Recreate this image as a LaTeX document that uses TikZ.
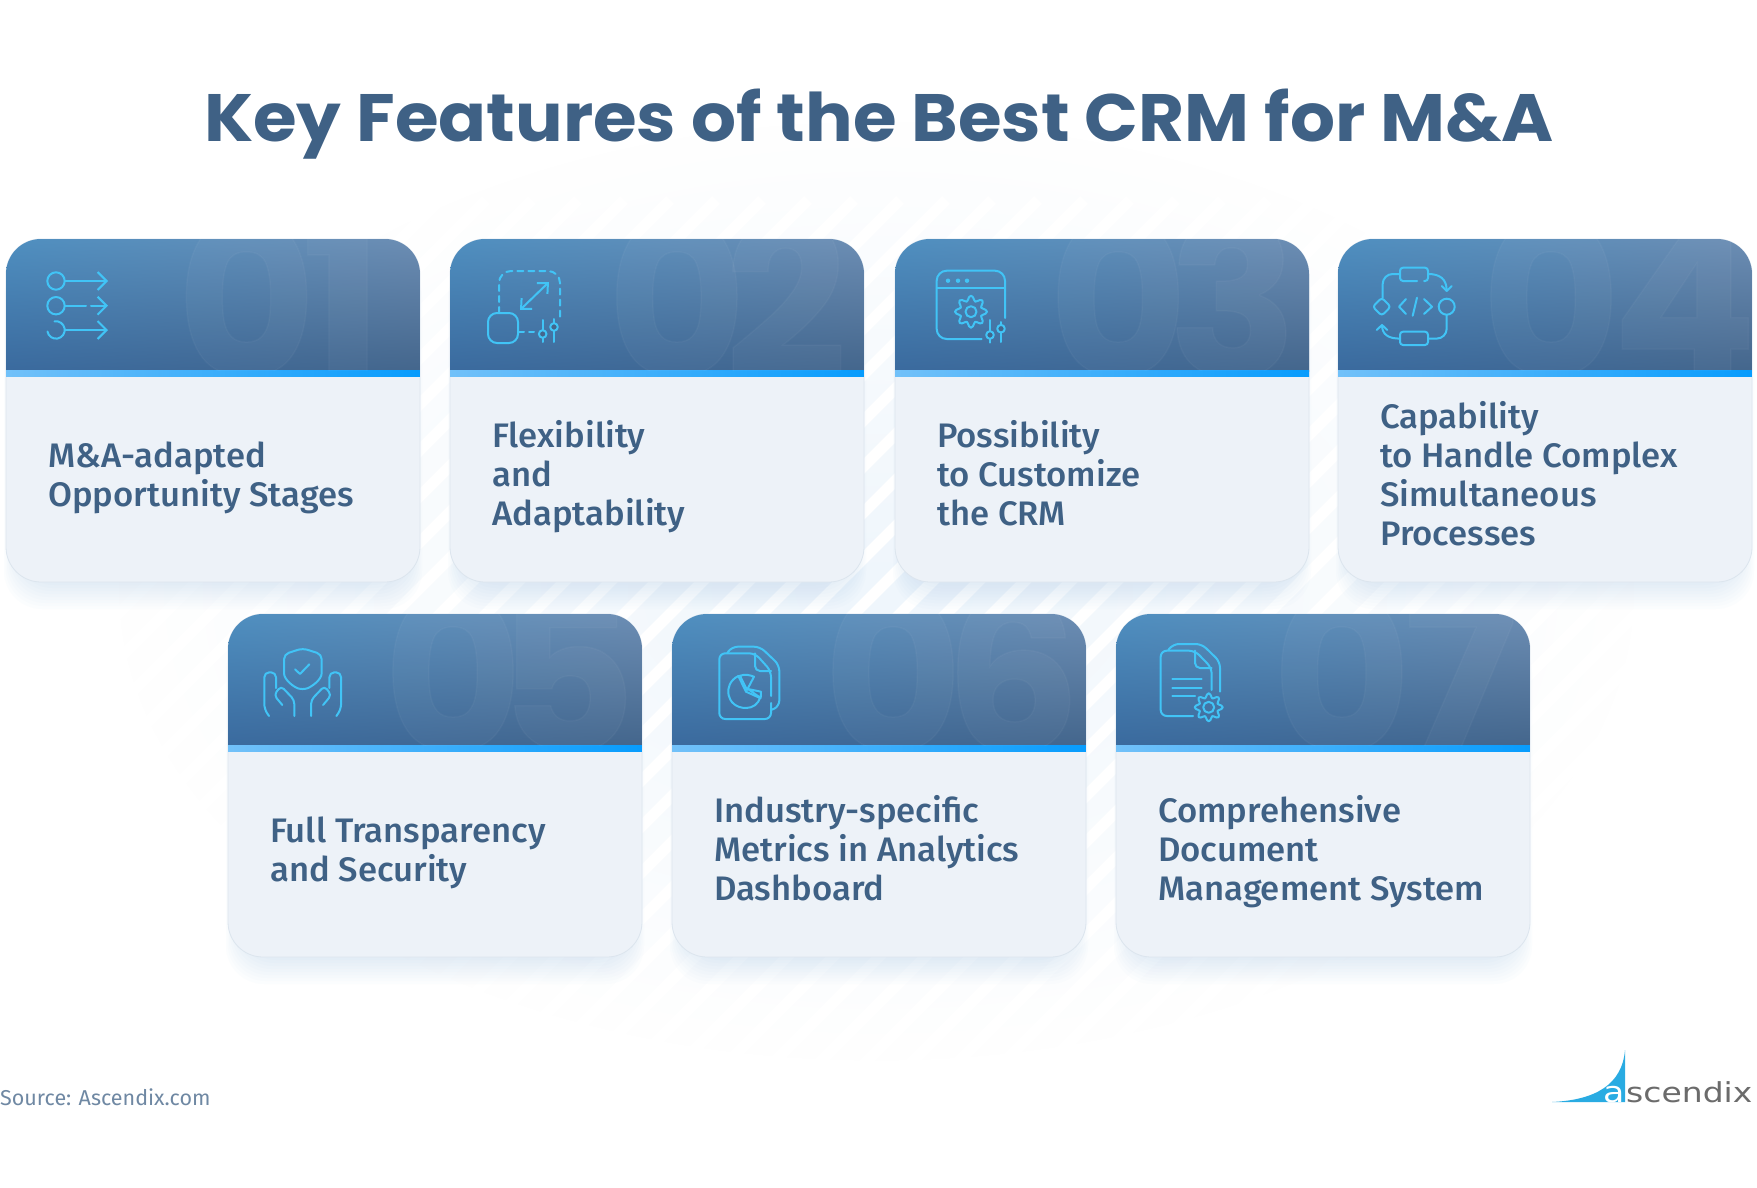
\documentclass[tikz,border=0pt]{standalone}
\usepackage{fontspec}
\usetikzlibrary{arrows.meta,fadings,shadings}
\setmainfont[FakeStretch=1.02]{Fira Sans Medium}
\newfontfamily\headfont[FakeStretch=1.055]{Poppins}
\newfontfamily\numfont[FakeBold=0.7]{Poppins}
\newfontfamily\srcfont{Fira Sans}
\newfontfamily\logofont[FakeStretch=1.2]{DejaVu Sans}
\definecolor{inkblue}{HTML}{3F6185}
\definecolor{iconblue}{HTML}{41C4F6}
\definecolor{bodyblue}{HTML}{EDF2F8}
\definecolor{edgeblue}{HTML}{DCE5EE}
\definecolor{glowblue}{HTML}{A9CCE6}
\definecolor{logoblue}{HTML}{29ABE2}
\definecolor{backblue}{HTML}{EFF6FC}
\definecolor{headtl}{HTML}{4F8FC0}
\definecolor{headtr}{HTML}{6C8DB3}
\definecolor{headbl}{HTML}{3A6A9E}
\definecolor{headbr}{HTML}{44668C}
\definecolor{barl}{HTML}{72C1F9}
\definecolor{barr}{HTML}{079CFD}
\tikzfading[name=middlefade,inner color=transparent!0,middle color=transparent!35,outer color=transparent!100]
\tikzset{
	titletext/.style={anchor=base,text=inkblue,font=\headfont\bfseries\fontsize{67}{70}\selectfont},
	cardtext/.style={anchor=west,align=left,inner sep=0pt,text=inkblue,font=\fontsize{34}{39}\selectfont},
	numtext/.style={anchor=base,inner sep=0pt,text=white,text opacity=0.03,font=\numfont\bfseries\fontsize{214}{214}\selectfont},
	iconline/.style={draw=iconblue,line width=2pt,line cap=round,line join=round},
	iconarrow/.style={iconline,-{Straight Barb[length=9pt,width=18pt,line width=2pt]}},
	cardbox/.style={fill=bodyblue,draw=edgeblue,line width=0.8pt,rounded corners=35pt},
}
\newcommand\gearicon[3]{
	\draw[iconline] plot[smooth cycle,samples=48,domain=0:352.5,variable=\t]
		({#1+#3*(.84+.16*cos(8*\t))*cos(\t)},{#2+#3*(.84+.16*cos(8*\t))*sin(\t)});
	\draw[iconline] (#1,#2) circle[radius=5.5pt];
}
\newcommand\sliders[6]{
	\draw[iconline] (#1,#2) -- (#1,#3);
	\draw[iconline] (#4,#5) -- (#4,#6);
}
\begin{document}
\begin{tikzpicture}[x=1pt,y=-1pt]
	\useasboundingbox (0,0) rectangle (1757,1188);
	\fill[white] (0,0) rectangle (1757,1188);
	% background stripes
	\fill[backblue,path fading=middlefade] (880,590) ellipse[x radius=760pt,y radius=470pt];
	\foreach \s in {-20,...,50}
		\draw[white,line width=11pt] (\s*46,1100) -- (\s*46+900,200);
	% title
	\node[titletext] (title) at (879,142) {Key Features of the Best CRM for M\&A};
	% cards
	\foreach \cardname/\cardx/\cardy/\numx/\numkern/\lastdigit/\cardtxt in {
		01/6/239/279.5/14.5/1/{M\&A-adapted\\Opportunity Stages},
		02/450/239/727/22/2/{Flexibility\\and\\Adaptability},
		03/895/239/1173/20/3/{Possibility\\to Customize\\the CRM},
		04/1338/239/1619/9/4/{Capability\\to Handle Complex\\Simultaneous\\Processes},
		05/228/614/509.6/26/5/{Full Transparency\\and Security},
		06/672/614/952/18.5/6/{Industry-specific\\Metrics in Analytics\\Dashboard},
		07/1116/614/1395/8/7/{Comprehensive\\Document\\Management System}} {
		\foreach \s in {0,...,8}
			\fill[glowblue,opacity=0.035,rounded corners=38pt] (\cardx+10-\s*1.5,\cardy+20) rectangle (\cardx+404+\s*1.5,\cardy+346+\s*3);
		\draw[cardbox] (\cardx,\cardy) rectangle ++(414,343);
		\begin{scope}[draw opacity=0.2]
			\clip[rounded corners=35pt] (\cardx,\cardy) rectangle ++(414,343);
			\shade[upper left=headtl,upper right=headtr,lower left=headbl,lower right=headbr] (\cardx,\cardy) rectangle ++(414,132);
			\shade[left color=barl,right color=barr] (\cardx,\cardy+131) rectangle ++(414,6.5);
			\clip (\cardx,\cardy) rectangle ++(414,131);
			\node[numtext] (num\cardname) at (\numx,\cardy+138) {0\kern-\numkern pt\lastdigit};
		\end{scope}
		\node[cardtext] (txt\cardname) at (\cardx+42,\cardy+240) {\strut\cardtxt\strut};
	}
	% icon 01
	\draw[iconarrow] (64.7,281) -- (108,281);
	\draw[iconline] (64.7,305.7) -- (86,305.7);
	\draw[iconarrow] (91,305.7) -- (108,305.7);
	\draw[iconarrow] (64.7,330) -- (108,330);
	\draw[iconline] (56,281) circle[radius=8.7pt];
	\draw[iconline] (56,305.7) circle[radius=8.7pt];
	\draw[iconline] (54.5,321.4) arc[start angle=100,end angle=-170,radius=8.7pt];
	% icon 02
	\draw[iconline,dash pattern=on 6pt off 5pt,rounded corners=12pt] (499,313) -- (499,271) -- (560,271) -- (560,318);
	\draw[iconline,rounded corners=9pt] (488,313) rectangle (518,343);
	\draw[iconline,dash pattern=on 6pt off 5pt] (518,331.7) -- (534,331.7);
	\draw[iconline,{Straight Barb[length=8pt,width=15pt,line width=2pt]}-{Straight Barb[length=8pt,width=15pt,line width=2pt]}] (520,310) -- (549,282);
	\sliders{542.7}{320}{342}{554}{319}{342}
	\draw[iconline,fill=headbr] (542.7,334) circle[radius=3.8pt];
	\draw[iconline,fill=headbr] (554,327) circle[radius=3.8pt];
	% icon 03
	\draw[iconline,rounded corners=10pt] (981.7,339) -- (936.7,339) -- (936.7,270.7) -- (1005,270.7) -- (1005,318);
	\draw[iconline] (936.7,288) -- (1005,288);
	\foreach \xpos in {948,958,967}
		\fill[iconblue] (\xpos,280.7) circle[radius=2.2pt];
	\gearicon{971}{311.7}{16}
	\sliders{990}{320}{342.7}{1001}{322}{342}
	\draw[iconline,fill=headbr] (990,335) circle[radius=3.8pt];
	\draw[iconline,fill=headbr] (1001,328.7) circle[radius=3.8pt];
	% icon 04
	\draw[iconline,rounded corners=3pt] (1424,281) -- (1428,281) -- (1428,267.7) -- (1400,267.7) -- (1400,281) -- (1417,281);
	\draw[iconline,rounded corners=3pt] (1400,331.7) rectangle (1428,345);
	\draw[iconline,rounded corners=3pt] (1381.7,297.7) -- (1390.7,306.7) -- (1381.7,315.7) -- (1372.7,306.7) -- cycle;
	\draw[iconline] (1446.7,306.7) circle[radius=8pt];
	\draw[iconline,rounded corners=10pt] (1400,274) -- (1382.7,274) -- (1382.7,298);
	\draw[iconline,rounded corners=10pt] (1446.7,315) -- (1446.7,338.6) -- (1428,338.6);
	\draw[iconline] (1428,274) .. controls (1440,274) and (1446.7,279) .. (1446.7,291);
	\draw[iconline] (1441.7,286) -- (1446.7,291) -- (1451.7,286);
	\draw[iconline] (1400,338.6) .. controls (1389,338.6) and (1382,335) .. (1382,325);
	\draw[iconline] (1376.7,330) -- (1382,325) -- (1387.3,330);
	\draw[iconline] (1406,299) -- (1399,306.7) -- (1406,314);
	\draw[iconline] (1424,299) -- (1432,306.7) -- (1424,314);
	\draw[iconline] (1417,297.7) -- (1412.7,315.7);
	% icon 05
	\draw[iconline,rounded corners=5pt] (302.7,648.3) -- (284,654.3) -- (284,668) .. controls (284,680) and (294,687) .. (302.7,690) .. controls (311,687) and (321.7,680) .. (321.7,668) -- (321.7,654.3) -- cycle;
	\draw[iconline] (295,669.3) -- (300,674) -- (309.3,664.3);
	\foreach \mirr/\flip in {0/1,605.4/-1} {
		\draw[iconline,rounded corners=5pt] (\mirr+\flip*269,716) -- (\mirr+\flip*264.3,709) -- (\mirr+\flip*264.3,672.3) -- (\mirr+\flip*276,672.3) -- (\mirr+\flip*276,688);
		\draw[iconline,rounded corners=4pt] (\mirr+\flip*282.3,705) -- (\mirr+\flip*274,695) -- (\mirr+\flip*281,686) -- (\mirr+\flip*294.3,700) -- (\mirr+\flip*294.3,716);
	}
	% icon 06
	\draw[iconline,rounded corners=6pt] (771,696) -- (771,671) -- (755,653.3) -- (719.3,653.3) -- (719.3,719) -- (771,719) -- (771,703);
	\draw[iconline,rounded corners=5pt] (755,653.3) -- (755,671) -- (771,671);
	\draw[iconline,rounded corners=6pt] (727.3,653) -- (731.7,646.7) -- (760,646.7) -- (779.3,665) -- (779.3,706.7) -- (771,710);
	\draw[iconline] (738.3,676) .. controls (722,684) and (726,708) .. (746,708) .. controls (753,708) and (758,704) .. (760,698) -- (746,691.7) -- cycle;
	\draw[iconline] (747,690) -- (740,675.7) .. controls (745,674) and (750,675) .. (754,676.7) -- cycle;
	\draw[iconline] (748,689) -- (761,691.7) -- (760.7,698) -- cycle;
	% icon 07
	\draw[iconline,rounded corners=6pt] (1193,716) -- (1160.7,716) -- (1160.7,650.7) -- (1195,650.7) -- (1211.7,668) -- (1211.7,690);
	\draw[iconline,rounded corners=5pt] (1195,650.7) -- (1195,668) -- (1211.7,668);
	\draw[iconline,rounded corners=6pt] (1168.3,650) -- (1173,644) -- (1201.7,644) -- (1220,661.7) -- (1220,691.7);
	\draw[iconline] (1172.3,679) -- (1201.7,679);
	\draw[iconline] (1172.3,687.7) -- (1201.7,687.7);
	\draw[iconline] (1172.3,696) -- (1195,696);
	\gearicon{1208.7}{707.3}{14}
	% footer
	\node[anchor=base west,text=inkblue!75!white,font=\srcfont\fontsize{21.5}{24}\selectfont,inner sep=0pt] (source) at (0,1105) {Source:\ \kern-4pt\ Ascendix.com};
	\fill[logoblue] (1552,1102) .. controls (1595,1100) and (1622,1085) .. (1625,1050) -- (1625,1102) -- cycle;
	\node[anchor=base east,text=white,font=\logofont\fontsize{29}{30}\selectfont,inner sep=0pt] (logoa) at (1625,1102) {a};
	\node[anchor=base west,text=black!58,font=\logofont\fontsize{27.5}{30}\selectfont,inner sep=0pt] (logotext) at (1626,1102) {scendix};
\end{tikzpicture}
\end{document}
